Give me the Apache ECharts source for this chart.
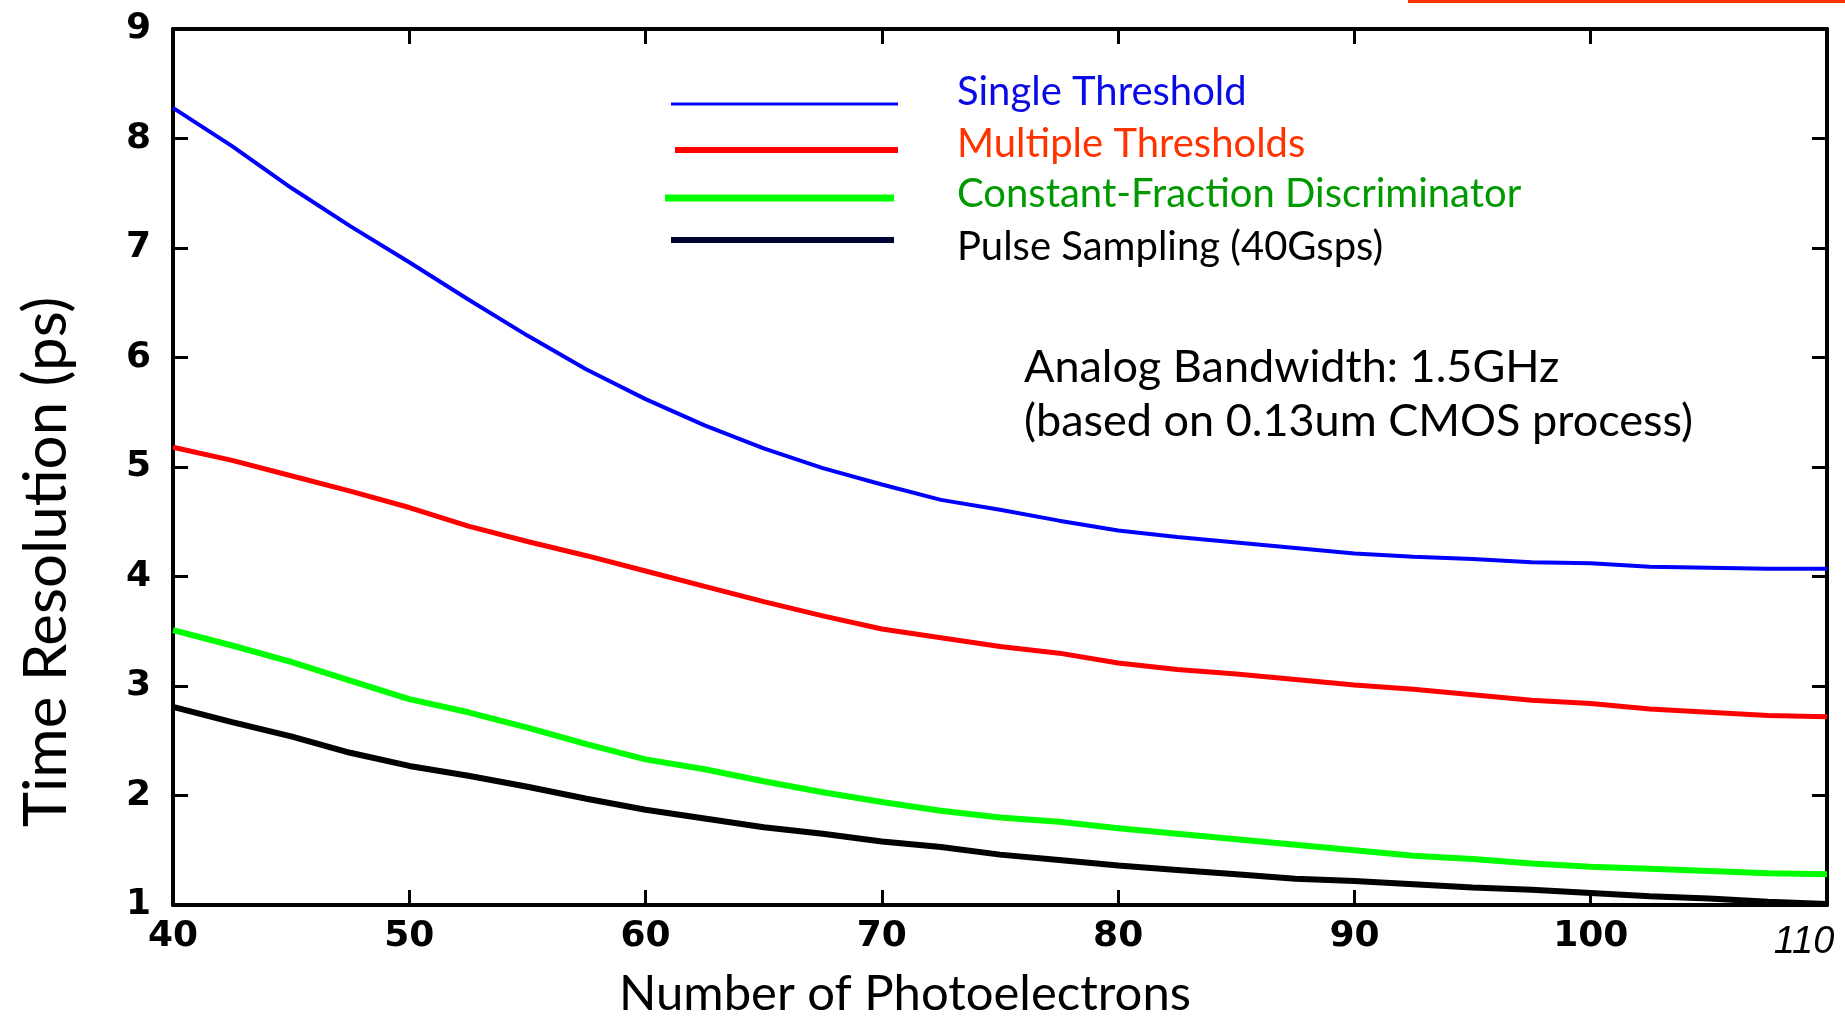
<!DOCTYPE html>
<html>
<head>
<meta charset="utf-8">
<script src="https://cdn.jsdelivr.net/npm/echarts@6/dist/echarts.min.js"></script>
<style>
  html, body { margin: 0; padding: 0; background: #fff; }
  #chart { width: 1845px; height: 1017px; }
</style>
</head>
<body>
<div id="chart"></div>
<script>
// 颜色
const BLUE = '#0000ff';
const RED = '#ff0000';
const GREEN = '#00ff00';
const BLACK = '#000000';
const TICK_FONT = 'DejaVu Sans';
const TEXT_FONT = 'Lato';

// 数据（横轴：光电子数）
const photoelectrons = [40, 42.5, 45, 47.5, 50, 52.5, 55, 57.5, 60, 62.5, 65, 67.5, 70, 72.5, 75,
  77.5, 80, 82.5, 85, 87.5, 90, 92.5, 95, 97.5, 100, 102.5, 105, 107.5, 110];
const singleThreshold = [8.28, 7.93, 7.55, 7.20, 6.87, 6.53, 6.20, 5.89, 5.62, 5.38, 5.17, 4.99, 4.84, 4.70, 4.61,
  4.51, 4.42, 4.36, 4.31, 4.26, 4.21, 4.18, 4.16, 4.13, 4.12, 4.09, 4.08, 4.07, 4.07];
const multipleThresholds = [5.18, 5.06, 4.92, 4.78, 4.63, 4.46, 4.32, 4.19, 4.05, 3.91, 3.77, 3.64, 3.52, 3.44, 3.36,
  3.30, 3.21, 3.15, 3.11, 3.06, 3.01, 2.97, 2.92, 2.87, 2.84, 2.79, 2.76, 2.73, 2.72];
const cfd = [3.51, 3.37, 3.22, 3.05, 2.88, 2.76, 2.62, 2.47, 2.33, 2.24, 2.13, 2.03, 1.94, 1.86, 1.80,
  1.76, 1.70, 1.65, 1.60, 1.55, 1.50, 1.45, 1.42, 1.38, 1.35, 1.33, 1.31, 1.29, 1.28];
const pulseSampling = [2.81, 2.67, 2.54, 2.39, 2.27, 2.18, 2.08, 1.97, 1.87, 1.79, 1.71, 1.65, 1.58, 1.53, 1.46,
  1.41, 1.36, 1.32, 1.28, 1.24, 1.22, 1.19, 1.16, 1.14, 1.11, 1.08, 1.06, 1.03, 1.01];

const seriesNames = ['Single Threshold', 'Multiple Thresholds', 'Constant-Fraction Discriminator', 'Pulse Sampling (40Gsps)'];
const notes = ['Analog Bandwidth: 1.5GHz', '(based on 0.13um CMOS process)'];

const toPairs = (ys) => ys.map((y, i) => [photoelectrons[i], y]);

const chart = echarts.init(document.getElementById('chart'));

const LEGEND_FONT = 40;

// 图例：每条单独放，线宽不同；shift 为文字相对线条的上下偏移
const makeLegend = (name, top, left, width, height, iconColor, textColor, shift) => {
  const padTop = shift > 0 ? shift * 2 : 0;
  const padBottom = shift < 0 ? -shift * 2 : 0;
  return {
    data: [{ name: name, icon: 'rect', itemStyle: { color: iconColor } }],
    orient: 'vertical',
    left: left,
    top: top,
    padding: 0,
    itemWidth: width,
    itemHeight: height,
    selectedMode: false,
    formatter: '{t|{name}}',
    textStyle: {
      rich: {
        t: {
          color: textColor,
          fontFamily: TEXT_FONT,
          fontSize: LEGEND_FONT,
          padding: [padTop, 0, padBottom, 957 - left - width - 5]
        }
      }
    }
  };
};

const lineSeries = (name, data, color, width) => ({
  name: name,
  type: 'line',
  data: toPairs(data),
  symbol: 'none',
  smooth: false,
  lineStyle: { color: color, width: width },
  itemStyle: { color: color },
  z: 3
});

const axisLine = { show: true, lineStyle: { color: '#000', width: 4 } };
const axisTick = { show: true, inside: true, length: 15, lineStyle: { color: '#000', width: 3 } };

const option = {
  backgroundColor: '#fff',
  animation: false,
  grid: { left: 173, right: 18, top: 29, bottom: 112, outerBoundsMode: 'none', containLabel: false },
  legend: [
    makeLegend(seriesNames[0], 72, 671, 227, 3, BLUE, '#0a0ae6', -12),
    makeLegend(seriesNames[1], 124, 675, 223, 6, RED, '#ff3300', -6),
    makeLegend(seriesNames[2], 174, 665, 229, 7, GREEN, '#009900', -4),
    makeLegend(seriesNames[3], 227, 671, 223, 6, '#000033', '#000', 7)
  ],
  xAxis: [
    {
      type: 'value',
      min: 40,
      max: 110,
      interval: 10,
      position: 'bottom',
      axisLine: axisLine,
      axisTick: axisTick,
      splitLine: { show: false },
      axisLabel: {
        margin: 14,
        color: '#000',
        fontFamily: TICK_FONT,
        fontWeight: 'bold',
        fontSize: 36,
        formatter: (v) => (v === 110 ? '{it|110}' : String(v)),
        rich: {
          it: {
            fontFamily: 'Liberation Sans',
            fontStyle: 'italic',
            fontWeight: 'normal',
            fontSize: 38,
            color: '#000',
            padding: [4, 46, 0, 0]
          }
        }
      },
      name: 'Number of Photoelectrons',
      nameLocation: 'middle',
      nameGap: 65,
      nameTextStyle: {
        color: '#000',
        fontFamily: TEXT_FONT,
        fontSize: 49,
        padding: [0, 190, 0, 0]
      }
    },
    {
      type: 'value',
      min: 40,
      max: 110,
      interval: 10,
      position: 'top',
      axisLine: axisLine,
      axisTick: axisTick,
      axisLabel: { show: false },
      splitLine: { show: false }
    }
  ],
  yAxis: [
    {
      type: 'value',
      min: 1,
      max: 9,
      interval: 1,
      position: 'left',
      axisLine: axisLine,
      axisTick: axisTick,
      splitLine: { show: false },
      axisLabel: {
        margin: 22,
        color: '#000',
        fontFamily: TICK_FONT,
        fontWeight: 'bold',
        fontSize: 36
      },
      name: 'Time Resolution (ps)',
      nameLocation: 'middle',
      nameGap: 96,
      nameTextStyle: {
        color: '#000',
        fontFamily: TEXT_FONT,
        fontSize: 60,
        padding: [0, 190, 0, 0]
      }
    },
    {
      type: 'value',
      min: 1,
      max: 9,
      interval: 1,
      position: 'right',
      axisLine: axisLine,
      axisTick: axisTick,
      axisLabel: { show: false },
      splitLine: { show: false }
    }
  ],
  graphic: [
    {
      type: 'rect',
      shape: { x: 1408, y: 0, width: 437, height: 3 },
      style: { fill: '#ff3300' }
    },
    {
      type: 'text',
      left: 1024,
      top: 345,
      style: { text: notes[0], fill: '#000', font: '45px ' + TEXT_FONT }
    },
    {
      type: 'text',
      left: 1024,
      top: 399,
      style: { text: notes[1], fill: '#000', font: '45px ' + TEXT_FONT }
    }
  ],
  series: [
    lineSeries(seriesNames[0], singleThreshold, BLUE, 4),
    lineSeries(seriesNames[1], multipleThresholds, RED, 5),
    lineSeries(seriesNames[2], cfd, GREEN, 6),
    lineSeries(seriesNames[3], pulseSampling, BLACK, 6)
  ]
};

chart.setOption(option);
</script>
</body>
</html>
